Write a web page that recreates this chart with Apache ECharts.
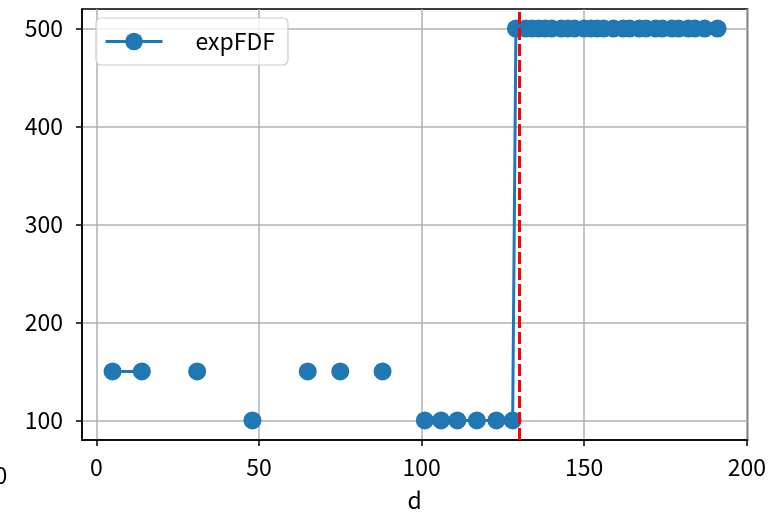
<!DOCTYPE html>
<html>
<head>
<meta charset="utf-8">
<script src="https://cdn.jsdelivr.net/npm/echarts@6/dist/echarts.min.js"></script>
<style>
html,body{margin:0;padding:0;background:#fff;}
#chart{width:769px;height:517px;}
</style>
</head>
<body>
<div id="chart"></div>
<script>
const seriesName = 'expFDF';
const xAxisName = 'd';
const dValues = [5,14,31,48,65,75,88,101,106,111,117,123,128,
  129,132,134,136,138,140,143,145,147,150,152,154,156,159,162,164,167,169,172,174,177,179,182,184,187,191];
const fdfValues = [150,150,150,100,150,150,150,100,100,100,100,100,100,
  500,500,500,500,500,500,500,500,500,500,500,500,500,500,500,500,500,500,500,500,500,500,500,500,500,500];
const gapAfter = [14,31,48,65,75,88];
const thresholdD = 130;
const xTicks = [0,50,100,150,200];
const yTicks = [100,200,300,400,500];
const xRange = [-4.4, 200.2];
const yRange = [80, 520];

const FONT = 'Noto Sans CJK JP';
const data = [];
dValues.forEach((x, i) => {
  data.push([x, fdfValues[i]]);
  if (gapAfter.includes(x)) data.push([x + 0.5, '-']);
});

const chart = echarts.init(document.getElementById('chart'), null, {renderer: 'canvas'});
chart.setOption({
  animation: false,
  backgroundColor: '#ffffff',
  textStyle: {fontFamily: FONT},
  grid: {left: 82, right: 16, top: 9, bottom: 70, show: true, borderColor: '#000', borderWidth: 1.5, containLabel: false},
  legend: {
    show: true, left: 96, top: 18, orient: 'vertical',
    padding: [12, 13, 12, 8],
    borderColor: '#cccccc', borderWidth: 1.2, borderRadius: 5,
    backgroundColor: 'rgba(255,255,255,0.8)',
    itemWidth: 57, itemHeight: 22,
    lineStyle: {width: 3},
    textStyle: {fontFamily: FONT, fontSize: 23, color: '#000', padding: [0, 0, 0, 28]},
    data: [seriesName]
  },
  xAxis: {
    type: 'value', min: xRange[0], max: xRange[1],
    name: xAxisName, nameLocation: 'middle', nameGap: 49,
    nameTextStyle: {fontFamily: FONT, fontSize: 23, color: '#000'},
    axisLine: {show: true, onZero: false, lineStyle: {color: '#000', width: 1.5}},
    axisTick: {show: true, inside: false, length: 6, lineStyle: {color: '#000', width: 1.5}, customValues: xTicks},
    axisLabel: {show: true, margin: 16, fontFamily: FONT, fontSize: 23, color: '#000', customValues: xTicks},
    splitLine: {show: true, lineStyle: {color: '#b0b0b0', width: 1.5}}
  },
  yAxis: {
    type: 'value', min: yRange[0], max: yRange[1],
    axisLine: {show: true, onZero: false, lineStyle: {color: '#000', width: 1.5}},
    axisTick: {show: true, inside: false, length: 6, lineStyle: {color: '#000', width: 1.5}, customValues: yTicks},
    axisLabel: {show: true, margin: 19, fontFamily: FONT, fontSize: 23, color: '#000', customValues: yTicks},
    splitLine: {show: true, lineStyle: {color: '#b0b0b0', width: 1.5}}
  },
  graphic: [{
    type: 'text', x: 1, y: 475,
    style: {text: '0', fontFamily: FONT, fontSize: 23, fill: '#000', align: 'center', verticalAlign: 'middle'}
  }],
  series: [{
    name: seriesName, type: 'line', data: data,
    connectNulls: false,
    symbol: 'circle', symbolSize: 18, showSymbol: true,
    itemStyle: {color: '#1f77b4'},
    lineStyle: {color: '#1f77b4', width: 3},
    emphasis: {disabled: true},
    z: 3,
    markLine: {
      silent: true, symbol: 'none', animation: false,
      label: {show: false},
      lineStyle: {color: '#ff0000', type: [12, 4], width: 3},
      data: [{xAxis: thresholdD}]
    }
  }]
});
</script>
</body>
</html>
